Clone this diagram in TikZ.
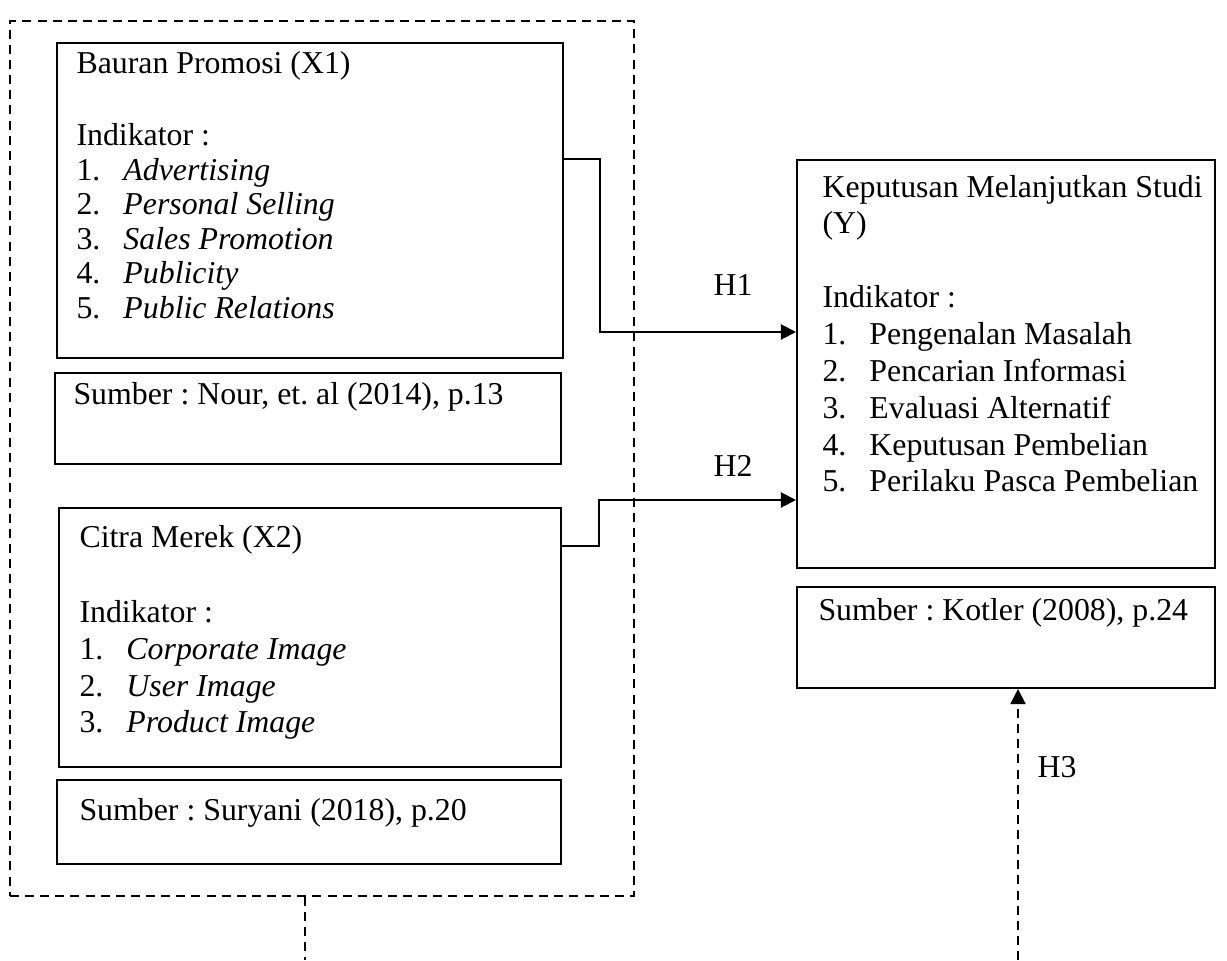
\documentclass[tikz,border=0pt]{standalone}
\usepackage{fontspec}
\setmainfont{Liberation Serif}
\frenchspacing
\usepackage{tikz}
\usetikzlibrary{arrows.meta}
\usetikzlibrary{positioning}
\usetikzlibrary{fit}
\usetikzlibrary{calc}
\tikzstyle{box}=[draw,line width=0.75pt,rectangle,inner sep=0pt]
\tikzstyle{frame}=[draw,line width=0.75pt,dash pattern=on 3.4pt off 2.3pt,rectangle,inner sep=0pt]
\tikzstyle{txt}=[anchor=base west,inner sep=0pt,font=\fontsize{12}{13.9}\selectfont]
\newcommand{\itm}[2]{\makebox[17.7pt][l]{#1}#2}
\newcommand{\boxtext}[1]{\begin{tabular}[t]{@{}l@{}}#1\end{tabular}}

\begin{document}
\begin{tikzpicture}[x=0.377pt,y=-0.377pt,
  link/.style={line width=0.75pt,-{Triangle[length=5.7pt,width=5.7pt]}},
  dlink/.style={link,dash pattern=on 3.4pt off 2.3pt},
  dline/.style={line width=0.75pt,dash pattern=on 3.4pt off 2.3pt},
  hyp/.style={font=\fontsize{12}{13.9}\selectfont,inner sep=0pt}]
\useasboundingbox (0,0) rectangle (1227,960);

\node[frame, fit={(10,21) (634,896)}] (grp) {};

\node[box, fit={(57,43) (563,358)}] (x1) {};
\node[box, fit={(55,373) (561,464)}] (x1src) {};
\node[box, fit={(59,508) (561,767)}] (x2) {};
\node[box, fit={(57,780) (561,864)}] (x2src) {};
\node[box, fit={(797,160) (1215,568)}] (y) {};
\node[box, fit={(797,587) (1215,688)}] (ysrc) {};

\node[txt, font=\fontsize{12}{13}\selectfont] (x1txt) at (76,73) {\boxtext{Bauran Promosi (X1)\\[14.5pt]
  Indikator :\\
  \itm{1.}{\textit{Advertising}}\\
  \itm{2.}{\textit{Personal Selling}}\\
  \itm{3.}{\textit{Sales Promotion}}\\
  \itm{4.}{\textit{Publicity}}\\
  \itm{5.}{\textit{Public Relations}}}};
\node[txt] (x1srctxt) at (73,404) {Sumber : Nour, et. al (2014), p.13};
\node[txt] (x2txt) at (79,547) {\boxtext{Citra Merek (X2)\\[14.5pt]
  Indikator :\\
  \itm{1.}{\textit{Corporate Image}}\\
  \itm{2.}{\textit{User Image}}\\
  \itm{3.}{\textit{Product Image}}}};
\node[txt] (x2srctxt) at (79,820) {Sumber : Suryani (2018), p.20};
\node[txt] (ytxt) at (822,197) {\boxtext{Keputusan Melanjutkan Studi\\
  (Y)\\[13.9pt]
  Indikator :\\
  \itm{1.}{Pengenalan Masalah}\\
  \itm{2.}{Pencarian Informasi}\\
  \itm{3.}{Evaluasi Alternatif}\\
  \itm{4.}{Keputusan Pembelian}\\
  \itm{5.}{Perilaku Pasca Pembelian}}};
\node[txt] (ysrctxt) at (818,620) {Sumber : Kotler (2008), p.24};

\coordinate (b1) at (600,159);
\coordinate (b2) at (600,332);
\coordinate (b3) at (599,546);
\coordinate (b4) at (599,500);
\coordinate (gfoot) at (305,960);
\coordinate (yfoot) at (1018,960);

\draw[link] (x1.east |- b1) -- (b1) -- (b2) -- (y.west |- b2);
\draw[link] (x2.east |- b3) -- (b3) -- (b4) -- (y.west |- b4);
\draw[dline] (grp.south -| gfoot) -- (gfoot);
\draw[dlink] (yfoot) -- (ysrc.south -| yfoot);

\node[hyp] (h1) at (733,285) {H1};
\node[hyp] (h2) at (733,466) {H2};
\node[hyp] (h3) at (1057,767) {H3};
\end{tikzpicture}
\end{document}
